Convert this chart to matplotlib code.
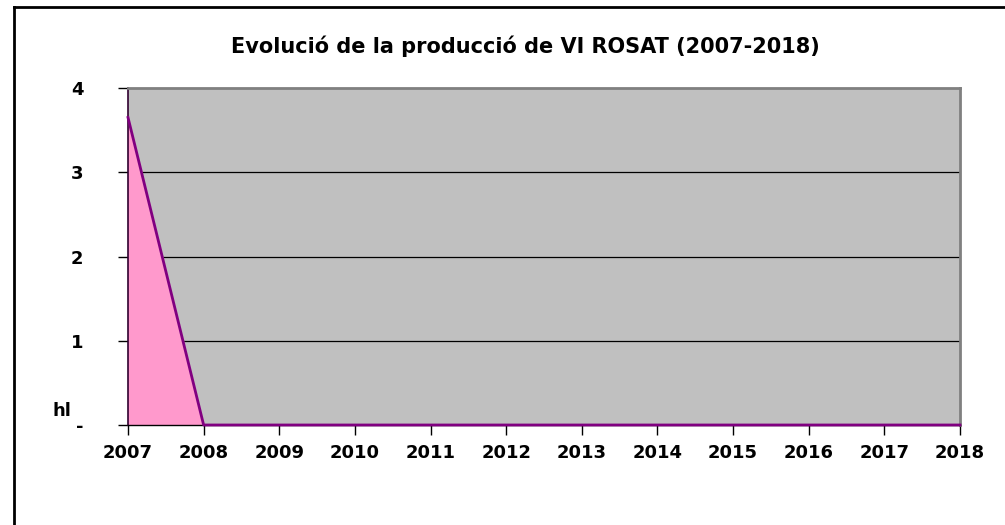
import matplotlib
matplotlib.use("Agg")
import matplotlib.pyplot as plt
from matplotlib.lines import Line2D

years = [2007, 2008, 2009, 2010, 2011, 2012, 2013, 2014, 2015, 2016, 2017, 2018]
values = [3.65, 0, 0, 0, 0, 0, 0, 0, 0, 0, 0, 0]
y_ticks = [0, 1, 2, 3, 4]
y_tick_labels = ["-", "1", "2", "3", "4"]
title = "Evolució de la producció de VI ROSAT (2007-2018)"
y_unit = "hl"

plt.rcParams['font.family'] = ['DejaVu Sans']

fig = plt.figure(figsize=(10.05, 5.25), dpi=100)
fig.patch.set_facecolor("white")
ax = fig.add_axes([128/1005, 1-425/525, (960-128)/1005, (425-88)/525])
ax.set_facecolor("#C0C0C0")

ax.fill_between(years, values, 0, color="#FF99CC", zorder=2)
ax.plot(years, values, color="#800080", lw=2, zorder=3, clip_on=False)

ax.set_xlim(years[0], years[-1])
ax.set_ylim(0, 4)
ax.set_xticks(years)
ax.set_xticklabels([str(y) for y in years], fontsize=13, fontweight="bold")
ax.set_yticks(y_ticks)
ax.set_yticklabels(y_tick_labels, fontsize=13, fontweight="bold")
ax.tick_params(axis="y", length=7, width=1, pad=25, color="black")
ax.tick_params(axis="x", length=7, width=1, pad=7, color="black")
for y in y_ticks[1:-1]:
    ax.axhline(y, color="black", lw=0.9, zorder=1)

for s in ["top", "right"]:
    ax.spines[s].set_color("#808080")
    ax.spines[s].set_linewidth(2)
ax.spines["left"].set_color("#300030")
ax.spines["left"].set_linewidth(1.2)
ax.spines["bottom"].set_color("black")
ax.spines["bottom"].set_linewidth(1)

fig.text(62/1005, 1-411/525, y_unit, fontsize=13, fontweight="bold",
         ha="center", va="center")
fig.text(525/1005, 1-46/525, title, fontsize=15, fontweight="bold",
         ha="center", va="center")

# chart frame (left and top edges visible)
fig.add_artist(Line2D([14/1005, 14/1005], [0, 1-7/525], transform=fig.transFigure,
                      color="black", lw=2))
fig.add_artist(Line2D([14/1005, 1], [1-7/525, 1-7/525], transform=fig.transFigure,
                      color="black", lw=2))

fig.savefig("out.png", dpi=100)
